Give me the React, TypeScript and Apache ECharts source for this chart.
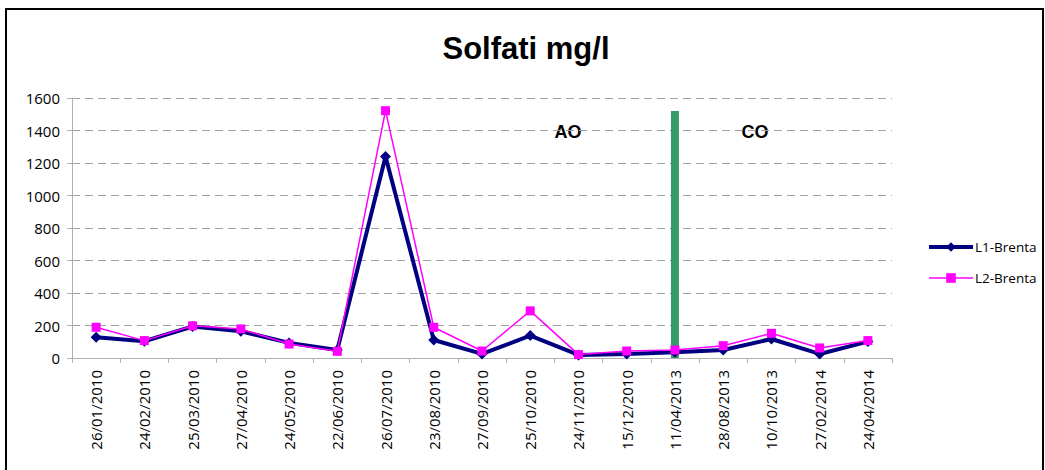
import React, { useEffect, useRef } from "react";
import * as echarts from "echarts";

const categories = [
  "26/01/2010", "24/02/2010", "25/03/2010", "27/04/2010", "24/05/2010", "22/06/2010",
  "26/07/2010", "23/08/2010", "27/09/2010", "25/10/2010", "24/11/2010", "15/12/2010",
  "11/04/2013", "28/08/2013", "10/10/2013", "27/02/2014", "24/04/2014",
];
const l1Brenta = [128, 103, 194, 165, 93, 49, 1240, 111, 25, 138, 19, 25, 35, 49, 117, 25, 101];
const l2Brenta = [189, 107, 198, 179, 86, 41, 1522, 189, 43, 290, 21, 43, 49, 76, 152, 62, 107];
const separator = [null, null, null, null, null, null, null, null, null, null, null, null, 1520, null, null, null, null];
const yTicks = { min: 0, max: 1600, interval: 200 };

const FONT = "'Open Sans', sans-serif";

export default function App() {
  const ref = useRef<HTMLDivElement>(null);
  useEffect(() => {
    if (!ref.current) return;
    const chart = echarts.init(ref.current, null, { renderer: "svg" });
    chart.setOption({
      animation: false,
      backgroundColor: "#ffffff",
      title: {
        text: "Solfati mg/l",
        left: 521,
        textAlign: "center",
        top: 28,
        textStyle: { fontFamily: "'Liberation Sans', Arial, sans-serif", fontWeight: "bold", fontSize: 31, color: "#000" },
      },
      grid: { left: 72, right: 153, top: 98, bottom: 112, containLabel: false },
      legend: {
        orient: "vertical",
        left: 922,
        top: 235,
        itemWidth: 44,
        itemHeight: 12,
        itemGap: 17,
        data: [
          { name: "L1-Brenta", lineStyle: { width: 4 } },
          { name: "L2-Brenta", lineStyle: { width: 1.5 } },
        ],
        textStyle: { fontFamily: FONT, fontSize: 13.5, color: "#000", padding: [0, 0, 0, -3] },
      },
      xAxis: {
        type: "category",
        data: categories,
        boundaryGap: true,
        axisLine: { lineStyle: { color: "#b0b0b0", width: 1 } },
        axisTick: { show: true, length: 5, alignWithLabel: false, lineStyle: { color: "#b0b0b0" } },
        axisLabel: { rotate: 90, interval: 0, fontFamily: FONT, fontSize: 15, color: "#000", margin: 12 },
        splitLine: { show: false },
      },
      yAxis: {
        type: "value",
        min: yTicks.min,
        max: yTicks.max,
        interval: yTicks.interval,
        axisLine: { show: true, lineStyle: { color: "#b0b0b0", width: 1 } },
        axisTick: { show: true, length: 5, lineStyle: { color: "#b0b0b0" } },
        axisLabel: { fontFamily: FONT, fontSize: 15, color: "#000", margin: 12, formatter: (v: number) => String(v) },
        splitLine: { show: true, lineStyle: { color: "#a0a0a0", type: [8, 5], width: 1 } },
      },
      series: [
        {
          name: "sep",
          type: "bar",
          data: separator,
          barWidth: 8,
          z: 1,
          itemStyle: { color: "#36996a" },
        },
        {
          name: "L1-Brenta",
          type: "line",
          data: l1Brenta,
          z: 3,
          symbol: "diamond",
          symbolSize: 11,
          lineStyle: { color: "#000080", width: 4 },
          itemStyle: { color: "#000080" },
        },
        {
          name: "L2-Brenta",
          type: "line",
          data: l2Brenta,
          z: 4,
          symbol: "rect",
          symbolSize: 9,
          lineStyle: { color: "#ff00ff", width: 1.5 },
          itemStyle: { color: "#ff00ff" },
        },
      ],
      graphic: [
        {
          type: "rect",
          shape: { x: 6, y: 9, width: 1037, height: 470 },
          style: { fill: "none", stroke: "#000", lineWidth: 2 },
          z: 100,
        },
        {
          type: "text",
          x: 568,
          y: 132,
          style: { text: "AO", fontFamily: "'Liberation Sans', Arial, sans-serif", fontWeight: "bold", fontSize: 18, fill: "#000", align: "center", verticalAlign: "middle" },
        },
        {
          type: "text",
          x: 755,
          y: 132,
          style: { text: "CO", fontFamily: "'Liberation Sans', Arial, sans-serif", fontWeight: "bold", fontSize: 18, fill: "#000", align: "center", verticalAlign: "middle" },
        },
      ],
    });
    return () => chart.dispose();
  }, []);
  return <div ref={ref} style={{ position: "absolute", left: 0, top: 0, width: 1045, height: 470 }} />;
}
